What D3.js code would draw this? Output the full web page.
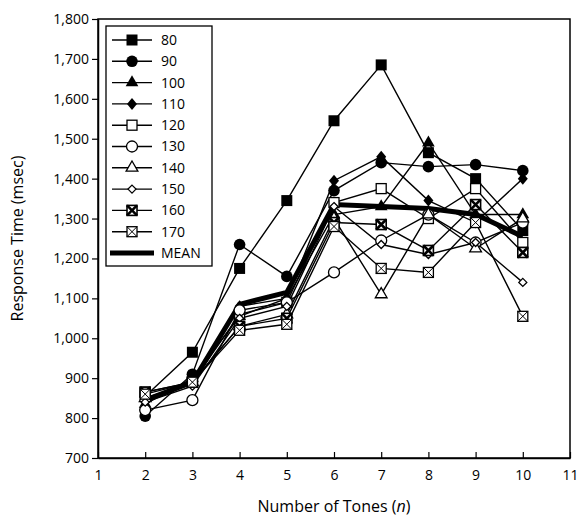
<!DOCTYPE html>
<html><head><meta charset="utf-8">
<script src="https://cdn.jsdelivr.net/npm/d3@7"></script>
<style>body{margin:0;background:#fff}svg{display:block}</style>
</head><body>
<script>
const xValues = [2,3,4,5,6,7,8,9,10];
const xTicks = [1,2,3,4,5,6,7,8,9,10,11];
const yTicks = [700,800,900,1000,1100,1200,1300,1400,1500,1600,1700,1800];
const seriesNames = ["80","90","100","110","120","130","140","150","160","170"];
const s80  = [855, 965, 1175, 1345, 1545, 1685, 1465, 1400, 1270];
const s90  = [805, 910, 1235, 1155, 1370, 1440, 1430, 1435, 1420];
const s100 = [835, 900, 1055, 1100, 1310, 1330, 1490, 1310, 1310];
const s110 = [845, 890, 1080, 1100, 1395, 1455, 1345, 1290, 1400];
const s120 = [865, 890, 1060, 1090, 1340, 1375, 1300, 1375, 1240];
const s130 = [820, 845, 1070, 1090, 1165, 1245, 1310, 1240, 1290];
const s140 = [850, 890, 1030, 1060, 1300, 1110, 1310, 1225, 1300];
const s150 = [840, 880, 1050, 1080, 1330, 1235, 1210, 1240, 1140];
const s160 = [865, 890, 1030, 1050, 1290, 1285, 1220, 1335, 1215];
const s170 = [860, 890, 1020, 1035, 1280, 1175, 1165, 1290, 1055];
const meanValues = [845, 890, 1085, 1115, 1335, 1330, 1325, 1310, 1255];
const markerTypes = ["fsquare","fcircle","ftri","fdiamond","osquare","ocircle","otri","odiamond","xsquare","xsquare2"];

const allSeries = [s80,s90,s100,s110,s120,s130,s140,s150,s160,s170];

const W=581,H=522;
const svg=d3.select("body").append("svg").attr("width",W).attr("height",H);
const font="'Open Sans', 'Noto Sans', sans-serif";
const x=d3.scaleLinear().domain([1,11]).range([98,570]);
const y=d3.scaleLinear().domain([700,1800]).range([458,19]);

// frame
svg.append("rect").attr("x",x(1)).attr("y",y(1800)).attr("width",x(11)-x(1)).attr("height",y(700)-y(1800))
  .attr("fill","none").attr("stroke","#000").attr("stroke-width",1.5);

const ya=svg.append("g").attr("transform",`translate(${x(1)},0)`)
  .call(d3.axisLeft(y).tickValues(yTicks).tickFormat(d3.format(",")).tickSize(6).tickSizeOuter(0).tickPadding(3));
const xa=svg.append("g").attr("transform",`translate(0,${y(700)})`)
  .call(d3.axisBottom(x).tickValues(xTicks).tickFormat(d3.format("d")).tickSize(-6).tickSizeOuter(0).tickPadding(12));
[ya,xa].forEach(a=>{
  a.selectAll("path").attr("stroke","#000").attr("stroke-width",1.5);
  a.selectAll("line").attr("stroke","#000").attr("stroke-width",1.2);
  a.selectAll("text").attr("fill","#000").style("font-family",font).style("font-size","14px");
});

// axis titles
svg.append("text").attr("transform",`translate(23,${(y(700)+y(1800))/2}) rotate(-90)`)
  .attr("text-anchor","middle").style("font-family",font).style("font-size","16px").text("Response Time (msec)");
const xt=svg.append("text").attr("x",(x(1)+x(11))/2).attr("y",512).attr("text-anchor","middle")
  .style("font-family",font).style("font-size","16px");
xt.append("tspan").text("Number of Tones (");
xt.append("tspan").style("font-style","italic").text("n");
xt.append("tspan").text(")");

const line=d3.line().x((d,i)=>x(xValues[i])).y(d=>y(d));
const plot=svg.append("g");
allSeries.forEach(s=>{
  plot.append("path").datum(s).attr("d",line).attr("fill","none").attr("stroke","#000").attr("stroke-width",1.4);
});
plot.append("path").datum(meanValues).attr("d",line).attr("fill","none").attr("stroke","#000").attr("stroke-width",5);

function marker(g,type,cx,cy){
  const r=5;
  const sw=1.3;
  switch(type){
    case "fsquare": g.append("rect").attr("x",cx-r-0.5).attr("y",cy-r-0.5).attr("width",2*r+1).attr("height",2*r+1).attr("fill","#000");break;
    case "fcircle": g.append("circle").attr("cx",cx).attr("cy",cy).attr("r",r+0.8).attr("fill","#000");break;
    case "ftri": g.append("path").attr("d",d3.symbol(d3.symbolTriangle,70)()).attr("transform",`translate(${cx},${cy})`).attr("fill","#000");break;
    case "fdiamond": g.append("path").attr("d",`M${cx},${cy-r-1}L${cx+r},${cy}L${cx},${cy+r+1}L${cx-r},${cy}Z`).attr("fill","#000");break;
    case "osquare": g.append("rect").attr("x",cx-r).attr("y",cy-r).attr("width",2*r).attr("height",2*r).attr("fill","#fff").attr("stroke","#000").attr("stroke-width",sw);break;
    case "ocircle": g.append("circle").attr("cx",cx).attr("cy",cy).attr("r",r+0.5).attr("fill","#fff").attr("stroke","#000").attr("stroke-width",sw);break;
    case "otri": g.append("path").attr("d",d3.symbol(d3.symbolTriangle,60)()).attr("transform",`translate(${cx},${cy})`).attr("fill","#fff").attr("stroke","#000").attr("stroke-width",sw);break;
    case "odiamond": g.append("path").attr("d",`M${cx},${cy-4}L${cx+4},${cy}L${cx},${cy+4}L${cx-4},${cy}Z`).attr("fill","#fff").attr("stroke","#000").attr("stroke-width",sw);break;
    case "xsquare":
      g.append("rect").attr("x",cx-r).attr("y",cy-r).attr("width",2*r).attr("height",2*r).attr("fill","#fff").attr("stroke","#000").attr("stroke-width",1.6);
      g.append("path").attr("d",`M${cx-r},${cy-r}L${cx+r},${cy+r}M${cx+r},${cy-r}L${cx-r},${cy+r}`).attr("stroke","#000").attr("stroke-width",2.6);break;
    case "xsquare2":
      g.append("rect").attr("x",cx-r).attr("y",cy-r).attr("width",2*r).attr("height",2*r).attr("fill","#fff").attr("stroke","#000").attr("stroke-width",sw);
      g.append("path").attr("d",`M${cx-r},${cy-r}L${cx+r},${cy+r}M${cx+r},${cy-r}L${cx-r},${cy+r}`).attr("stroke","#000").attr("stroke-width",1);break;
  }
}
allSeries.forEach((s,k)=>{
  s.forEach((v,i)=>marker(plot,markerTypes[k],x(xValues[i]),y(v)));
});

// legend
const lg=svg.append("g");
lg.append("rect").attr("x",106).attr("y",26).attr("width",106).attr("height",240).attr("fill","#fff").attr("stroke","#000").attr("stroke-width",1.3);
const rowY=i=>40+i*21.3;
seriesNames.forEach((n,i)=>{
  const yy=rowY(i);
  lg.append("line").attr("x1",112).attr("x2",152).attr("y1",yy).attr("y2",yy).attr("stroke","#000").attr("stroke-width",1.4);
  marker(lg,markerTypes[i],132,yy);
  lg.append("text").attr("x",161).attr("y",yy).attr("dy","0.35em").style("font-family",font).style("font-size","14px").text(n);
});
const my=rowY(10);
lg.append("line").attr("x1",110).attr("x2",154).attr("y1",my).attr("y2",my).attr("stroke","#000").attr("stroke-width",5);
lg.append("text").attr("x",161).attr("y",my).attr("dy","0.35em").style("font-family",font).style("font-size","14px").text("MEAN");
</script>
</body></html>
